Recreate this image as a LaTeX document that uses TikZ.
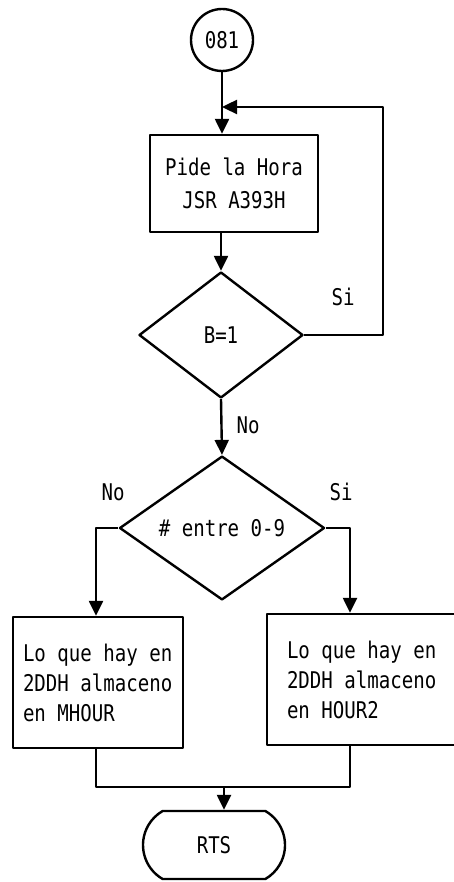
\documentclass[tikz,border=0pt]{standalone}
\usepackage{fontspec}
\newfontfamily\monofnt[FakeStretch=0.83]{DejaVu Sans Mono}
\newcommand\sk{\phantom{0}}
\usetikzlibrary{arrows.meta,shapes.geometric,shapes.misc}
\begin{document}
\begin{tikzpicture}[x=1pt,y=-1pt,
  every node/.style={font=\monofnt\fontsize{23}{30}\selectfont},
  ln/.style={line width=2.4pt, line join=round},
  arr/.style={ln, -{Triangle[length=15pt,width=14pt]}},
  procbox/.style={draw, ln, rectangle, inner sep=0pt},
  decis/.style={draw, ln, diamond, inner sep=0pt},
  lbl/.style={inner sep=0pt}
]
\useasboundingbox (0,0) rectangle (454,882);
\clip (0,0) rectangle (454,882);
\fill[white] (0,0) rectangle (454,882);

\node[draw, ln, circle, minimum size=62pt, inner sep=0pt] (c081) at (222,40) {081};
\node[procbox, minimum width=168pt, minimum height=97pt, align=center, font=\monofnt\fontsize{23}{33}\selectfont] (box1) at (234,183.5) {Pide\sk la\sk Hora\\ JSR\sk A393H};
\node[decis, minimum width=164pt, minimum height=126pt] (d1) at (221,335) {B=1};
\node[decis, minimum width=205pt, minimum height=125pt] (d2) at (222,528) {\#\sk entre\sk 0-9};
\node[procbox, minimum height=131pt, text width=150pt, inner xsep=10pt, align=left] (boxL) at (98,682.5) {Lo\sk que\sk hay\sk en\\2DDH\sk almaceno\\en\sk MHOUR};
\node[procbox, minimum height=131pt, text width=160pt, inner xsep=20pt, align=left] (boxR) at (367,679.5) {Lo\sk que\sk hay\sk en\\2DDH\sk almaceno\\en\sk HOUR2};
\node[draw, ln, rounded rectangle, rounded rectangle arc length=120, minimum width=142pt, minimum height=68pt, inner sep=0pt] (term) at (214,845) {RTS};

\coordinate (loopR) at (383,107);
\coordinate (join) at (224,787);

\draw[arr] (c081.south) -- (c081.south |- box1.north);
\draw[arr] (d1.east) -| (loopR) -- (c081.south |- loopR);
\draw[arr] (d1.north |- box1.south) -- (d1.north);
\draw[arr] (d1.south) -- (d2.north);
\draw[arr] (d2.west) -| ([xshift=-2pt]boxL.north);
\draw[arr] (d2.east) -| ([xshift=-17pt]boxR.north);
\draw[ln] ([xshift=-2pt]boxL.south) |- (join) -| ([xshift=-17pt]boxR.south);
\draw[arr] (join) -- (join |- term.north);

\node[lbl] (siA) at (343,297) {Si};
\node[lbl] (noA) at (248,425) {No};
\node[lbl] (noB) at (113,492) {No};
\node[lbl] (siB) at (341,492) {Si};
\end{tikzpicture}
\end{document}
